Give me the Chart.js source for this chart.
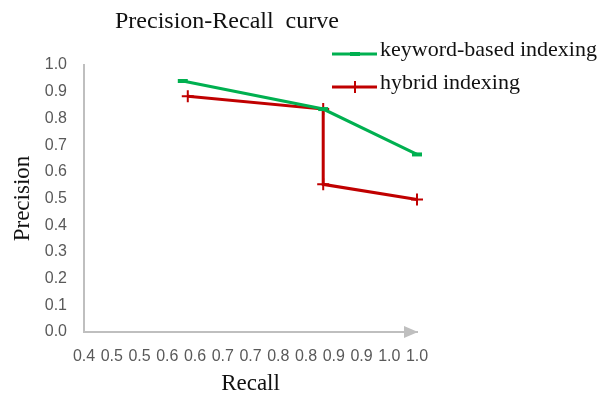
<!DOCTYPE html>
<html>
<head>
<meta charset="utf-8">
<script src="https://cdn.jsdelivr.net/npm/chart.js@4.4.1/dist/chart.umd.min.js"></script>
<style>
    html, body { margin: 0; padding: 0; background: #ffffff; }
    #contenedor { width: 601px; height: 398px; }
</style>
</head>
<body>
<div id="contenedor"><canvas id="grafico" width="601" height="398"></canvas></div>
<script>
// Datos
var seriesNames = ['keyword-based indexing', 'hybrid indexing'];
var recallKeyword = [0.578, 0.831, 1.0];
var precisionKeyword = [0.94, 0.835, 0.665];
var recallHybrid = [0.587, 0.831, 0.831, 1.0];
var precisionHybrid = [0.883, 0.835, 0.553, 0.496];

var xTickValues = [0.4, 0.45, 0.5, 0.55, 0.6, 0.65, 0.7, 0.75, 0.8, 0.85, 0.9, 0.95, 1.0];
var xTickLabels = ['0.4', '0.5', '0.5', '0.6', '0.6', '0.7', '0.7', '0.8', '0.8', '0.9', '0.9', '1.0', '1.0'];
var yTickLabels = ['0.0', '0.1', '0.2', '0.3', '0.4', '0.5', '0.6', '0.7', '0.8', '0.9', '1.0'];

function aPuntos(xs, ys) {
    var puntos = [];
    for (var i = 0; i < xs.length; i++) {
        puntos.push({ x: xs[i], y: ys[i] });
    }
    return puntos;
}

var serif = '"Liberation Serif", "Times New Roman", serif';
var sans = '"Liberation Sans", Arial, sans-serif';

// titulo, leyenda y flecha del eje x
var extras = {
    id: 'extras',
    afterDraw: function (chart) {
        var ctx = chart.ctx;
        var xs = chart.scales.x;
        var ys = chart.scales.y;
        var y0 = ys.getPixelForValue(0);

        ctx.save();
        ctx.fillStyle = '#bfbfbf';
        ctx.beginPath();
        ctx.moveTo(xs.right + 1, y0);
        ctx.lineTo(xs.right - 13, y0 - 6);
        ctx.lineTo(xs.right - 13, y0 + 6);
        ctx.closePath();
        ctx.fill();

        ctx.fillStyle = '#111111';
        ctx.textAlign = 'left';
        ctx.textBaseline = 'alphabetic';
        ctx.font = '24px ' + serif;
        ctx.fillText('Precision-Recall  curve', 115, 28);

        chart.data.datasets.forEach(function (ds, i) {
            var ly = 54 + i * 33;
            ctx.strokeStyle = ds.borderColor;
            ctx.lineWidth = 3;
            ctx.beginPath();
            ctx.moveTo(332, ly);
            ctx.lineTo(377, ly);
            ctx.stroke();
            ctx.lineWidth = ds.pointBorderWidth;
            Chart.helpers.drawPoint(ctx, {
                pointStyle: ds.pointStyle,
                radius: ds.pointRadius,
                borderWidth: ds.pointBorderWidth,
                rotation: 0
            }, 355, ly);
            ctx.fillStyle = '#111111';
            ctx.font = '22px ' + serif;
            ctx.fillText(ds.label, 380, ly + 2);
        });
        ctx.restore();
    }
};

var ctx = document.getElementById('grafico').getContext('2d');
var chart = new Chart(ctx, {
    type: 'line',
    data: {
        datasets: [{
            label: seriesNames[0],
            data: aPuntos(recallKeyword, precisionKeyword),
            borderColor: '#00b050',
            backgroundColor: '#00b050',
            borderWidth: 3,
            pointStyle: 'line',
            pointRadius: 5,
            pointBorderWidth: 4,
            pointBorderColor: '#00b050',
            tension: 0,
            clip: false
        }, {
            label: seriesNames[1],
            data: aPuntos(recallHybrid, precisionHybrid),
            borderColor: '#c00000',
            backgroundColor: '#c00000',
            borderWidth: 3,
            pointStyle: 'cross',
            pointRadius: 6,
            pointBorderWidth: 2,
            pointBorderColor: '#c00000',
            tension: 0,
            clip: false
        }]
    },
    options: {
        responsive: false,
        animation: false,
        layout: {
            padding: { top: 65, right: 184, left: 0, bottom: 0 }
        },
        plugins: {
            legend: { display: false },
            title: { display: false },
            tooltip: { enabled: false }
        },
        scales: {
            x: {
                type: 'linear',
                min: 0.4,
                max: 1.0,
                afterFit: function (scale) { scale.height = 66; },
                afterBuildTicks: function (scale) {
                    scale.ticks = xTickValues.map(function (v) { return { value: v }; });
                },
                grid: { display: false, drawTicks: false },
                border: { display: true, color: '#bfbfbf', width: 2 },
                ticks: {
                    autoSkip: false,
                    maxRotation: 0,
                    minRotation: 0,
                    padding: 15,
                    color: '#595959',
                    font: { family: sans, size: 16 },
                    callback: function (value, index) { return xTickLabels[index]; }
                },
                title: {
                    display: true,
                    text: 'Recall',
                    color: '#111111',
                    font: { family: serif, size: 23 },
                    padding: { top: 0, bottom: 0 }
                }
            },
            y: {
                min: 0,
                max: 1,
                afterFit: function (scale) { scale.width = 84; },
                grid: { display: false, drawTicks: false },
                border: { display: true, color: '#bfbfbf', width: 2 },
                ticks: {
                    stepSize: 0.1,
                    padding: 17,
                    color: '#595959',
                    font: { family: sans, size: 16 },
                    callback: function (value, index) { return yTickLabels[index]; }
                },
                title: {
                    display: true,
                    text: 'Precision',
                    color: '#111111',
                    font: { family: serif, size: 23 },
                    padding: { top: 9, bottom: 0 }
                }
            }
        }
    },
    plugins: [extras]
});
</script>
</body>
</html>
